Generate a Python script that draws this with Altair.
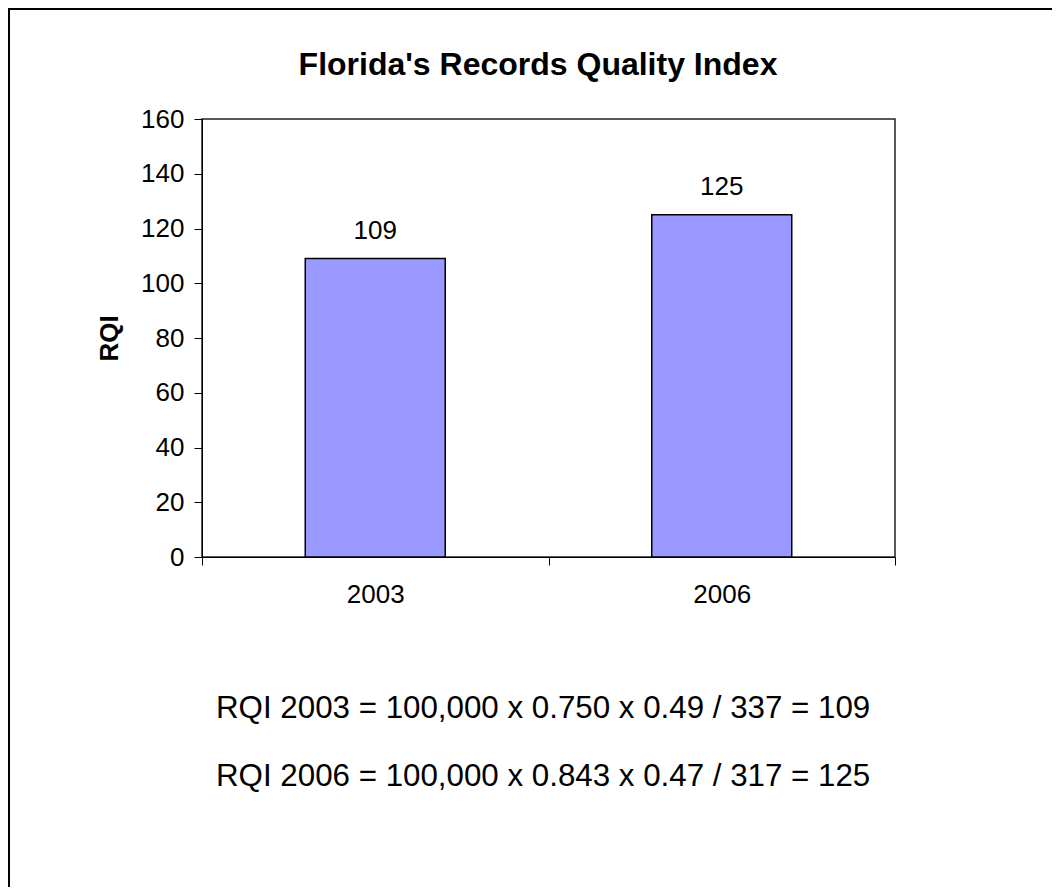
import altair as alt
import pandas as pd

years = ["2003", "2006"]
rqi = [109, 125]
y_ticks = [0, 20, 40, 60, 80, 100, 120, 140, 160]
formulas = [
    "RQI 2003 = 100,000 x 0.750 x 0.49 / 337 = 109",
    "RQI 2006 = 100,000 x 0.843 x 0.47 / 317 = 125",
]
title_text = "Florida's Records Quality Index"
y_title = "RQI"

FONT = "Liberation Sans"
W, H = 693, 438

df = pd.DataFrame({"year": years, "rqi": rqi})

x_enc = alt.X(
    "year:N",
    sort=years,
    scale=alt.Scale(paddingInner=0, paddingOuter=0),
    axis=alt.Axis(
        title=None,
        labelAngle=0,
        tickBand="extent",
        tickSize=8,
        labelPadding=37,
        labelBaseline="alphabetic",
        labelFontSize=26,
        labelColor="black",
        tickColor="black",
        domainColor="black",
    ),
)
y_enc = alt.Y(
    "rqi:Q",
    scale=alt.Scale(domain=[0, 160], nice=False),
    axis=alt.Axis(
        title=y_title,
        values=y_ticks,
        grid=False,
        tickSize=8,
        labelPadding=10,
        labelFontSize=26,
        labelColor="black",
        tickColor="black",
        domainColor="black",
        titleFontSize=26,
        titleFontWeight="bold",
        titleColor="black",
        titleBaseline="alphabetic",
        titlePadding=23,
    ),
)

base = alt.Chart(df)
bars = base.mark_bar(
    color="#9999FF", stroke="black", strokeWidth=1.5,
    width=alt.RelativeBandSize(0.404),
).encode(x=x_enc, y=y_enc)

labels = base.mark_text(
    baseline="alphabetic", dy=-20, fontSize=26, color="black", font=FONT
).encode(x=alt.X("year:N", sort=years), y="rqi:Q", text="rqi:Q")

layers = [bars, labels]

# chart title as a text mark above the plot area
layers.append(
    alt.Chart(pd.DataFrame({"t": [title_text]}))
    .mark_text(align="center", baseline="alphabetic", fontSize=32, fontWeight="bold",
               color="black", font=FONT)
    .encode(x=alt.value(336), y=alt.value(-44), text="t:N")
)

for i, line in enumerate(formulas):
    layers.append(
        alt.Chart(pd.DataFrame({"t": [line]}))
        .mark_text(align="left", baseline="alphabetic", fontSize=31.3, color="black", font=FONT)
        .encode(x=alt.value(14), y=alt.value(599 + 68 * i), text="t:N")
    )

# outer frame lines (top and left edges)
frame = pd.DataFrame({"k": [0]})
layers.append(
    alt.Chart(frame).mark_rule(color="black", strokeWidth=2)
    .encode(x=alt.value(-194), x2=alt.value(850), y=alt.value(-110))
)
layers.append(
    alt.Chart(frame).mark_rule(color="black", strokeWidth=2)
    .encode(x=alt.value(-193), y=alt.value(-111), y2=alt.value(770))
)

chart = (
    alt.layer(*layers)
    .properties(
        width=W,
        height=H,
        autosize=alt.AutoSizeParams(type="none"),
        padding={"left": 194, "top": 111, "right": 157, "bottom": 330},
    )
    .configure(font=FONT)
    .configure_view(stroke="#222", strokeWidth=1.5)
    .configure_axis(labelFont=FONT, titleFont=FONT)
)

chart.save("out.html", embed_options={"renderer": "svg", "actions": False})
